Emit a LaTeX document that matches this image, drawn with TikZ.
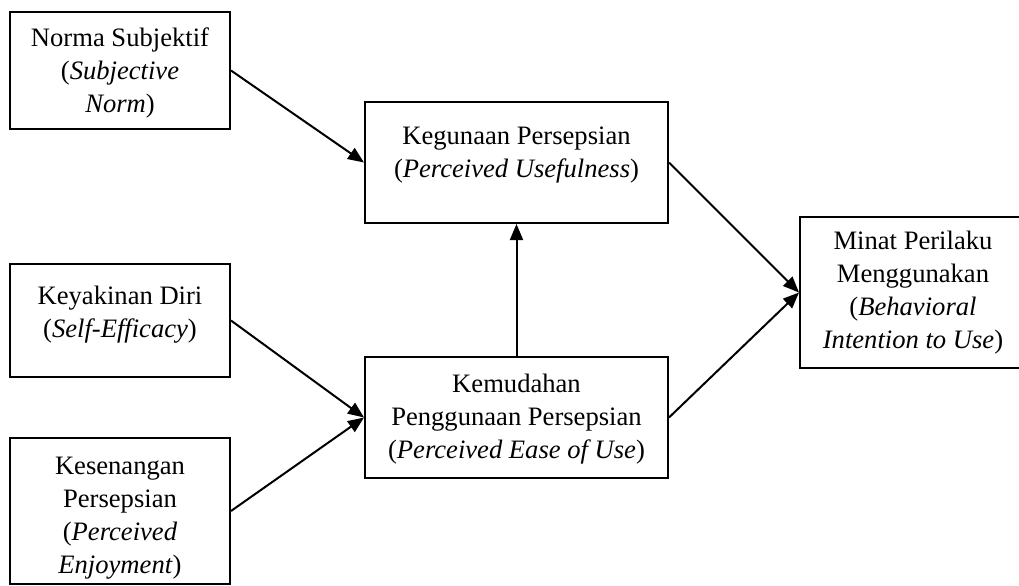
\documentclass[tikz,border=0pt]{standalone}
\usepackage{fontspec}
\setmainfont{Liberation Serif}
\usetikzlibrary{arrows.meta}
\begin{document}
\begin{tikzpicture}[x=0.5pt,y=-0.5pt,
  box/.style={draw=black,line width=1pt,rectangle,inner sep=0pt},
  lbl/.style={align=center,inner sep=0pt,font=\fontsize{13.3}{16.4}\selectfont},
  link/.style={line width=1pt,-{Triangle[length=8pt,width=6.5pt]}}]
\useasboundingbox (0,0) rectangle (1019,585);

% construct boxes
\node[box,minimum width=110pt,minimum height=58.5pt] (norma) at (120,70.5) {};
\node[box,minimum width=151.5pt,minimum height=60.5pt] (guna) at (516.5,162.5) {};
\node[box,minimum width=110pt,minimum height=56.5pt] (yakin) at (120,320.5) {};
\node[box,minimum width=110pt,minimum height=73pt] (senang) at (120,511) {};
\node[box,minimum width=151.5pt,minimum height=60.5pt] (mudah) at (516.5,417.5) {};
\node[box,minimum width=113pt,minimum height=75.5pt] (minat) at (913,292.5) {};

% labels, positioned by the baseline of their last line
\node[lbl,anchor=base] (normaT) at (120,112) {Norma Subjektif\\(\textit{Subjective}\\\textit{Norm})};
\node[lbl,anchor=base] (gunaT) at (516.5,177) {Kegunaan Persepsian\\(\textit{Perceived Usefulness})};
\node[lbl,anchor=base] (yakinT) at (120,337) {Keyakinan Diri\\(\textit{Self-Efficacy})};
\node[lbl,anchor=base] (senangT) at (120,573) {Kesenangan\\Persepsian\\(\textit{Perceived}\\\textit{Enjoyment})};
\node[lbl,anchor=base] (mudahT) at (516.5,458) {Kemudahan\\Penggunaan Persepsian\\(\textit{Perceived Ease of Use})};
\node[lbl,anchor=base] (minatT) at (913,348) {Minat Perilaku\\Menggunakan\\(\textit{Behavioral}\\\textit{Intention to Use})};

% relations
\draw[link] (norma.east) -- (guna.west);
\draw[link] (yakin.east) -- (mudah.west);
\draw[link] (senang.east) -- (mudah.west);
\draw[link] (mudah.north) -- (guna.south);
\draw[link] (guna.east) -- (minat.west);
\draw[link] (mudah.east) -- (minat.west);
\end{tikzpicture}
\end{document}
